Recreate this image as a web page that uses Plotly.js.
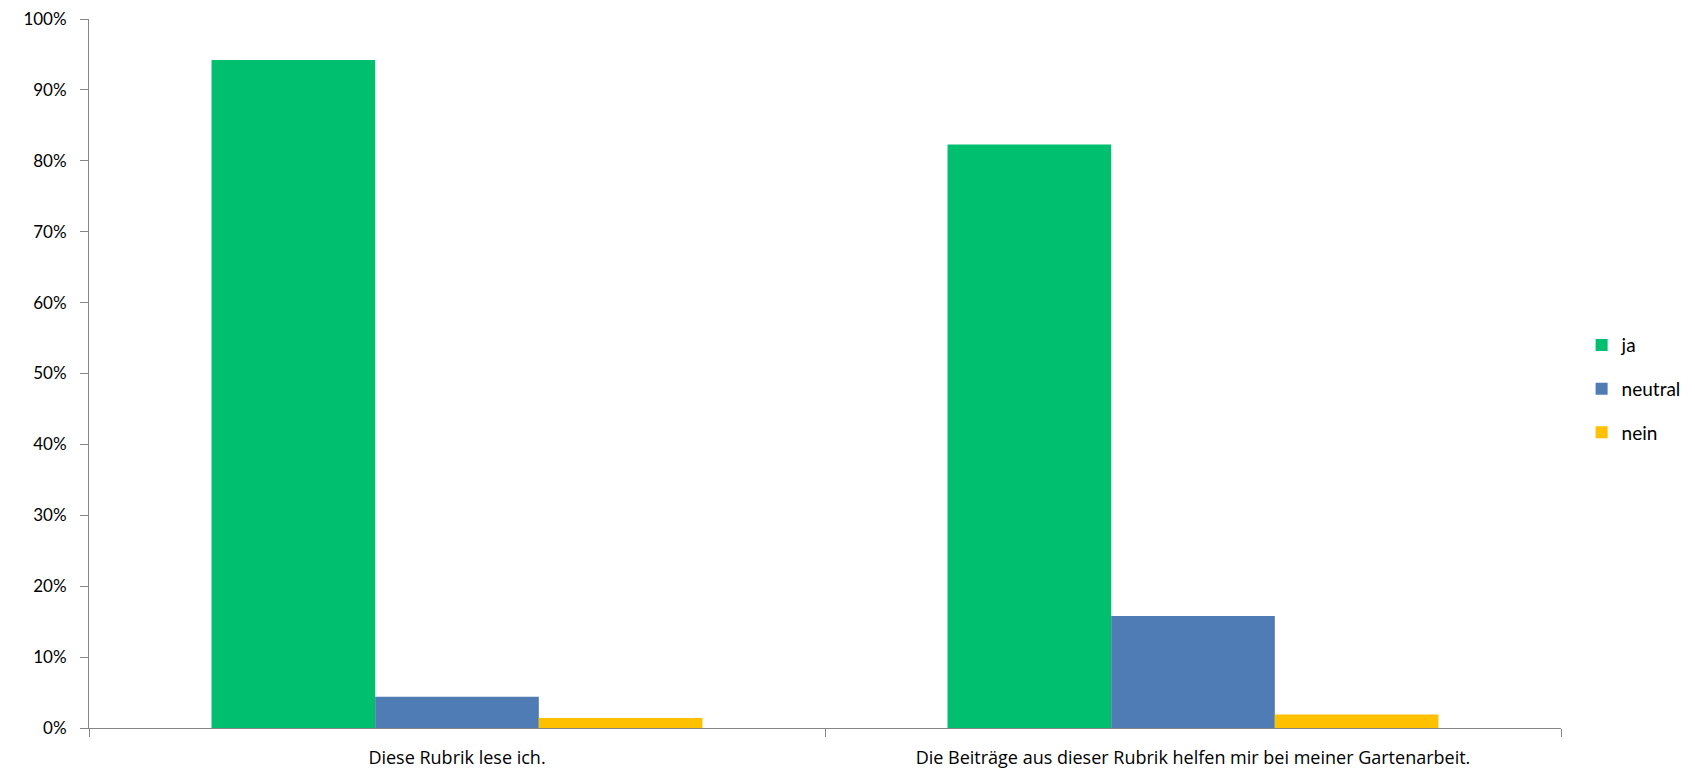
<!DOCTYPE html>
<html>
<head>
<meta charset="utf-8">
<script src="https://cdn.plot.ly/plotly-3.0.1.min.js"></script>
<style>html,body{margin:0;padding:0;background:#fff;}#chart{width:1695px;height:771px;}</style>
</head>
<body>
<div id="chart"></div>
<script>
const categories = ["Diese Rubrik lese ich.", "Die Beiträge aus dieser Rubrik helfen mir bei meiner Gartenarbeit."];
const seriesNames = ["ja", "neutral", "nein"];
const ja = [0.942, 0.823];
const neutral = [0.044, 0.158];
const nein = [0.014, 0.019];
const yTickVals = [0, 0.1, 0.2, 0.3, 0.4, 0.5, 0.6, 0.7, 0.8, 0.9, 1.0];
const yTickText = ["0%", "10%", "20%", "30%", "40%", "50%", "60%", "70%", "80%", "90%", "100%"];

const colors = ["#00BF6F", "#4F7CB5", "#FFC000"];
const values = [ja, neutral, nein];
const FONT = "Lato, 'Open Sans', sans-serif";
const XFONT = "'Open Sans', Lato, sans-serif";

const traces = seriesNames.map((name, i) => ({
  type: "bar",
  name: name,
  legendgroup: name,
  x: categories,
  y: values[i],
  marker: {color: colors[i], line: {width: 0}},
  hoverinfo: "skip"
}));

const layout = {
  width: 1695,
  height: 771,
  paper_bgcolor: "#ffffff",
  plot_bgcolor: "#ffffff",
  barmode: "group",
  bargap: 0.333,
  bargroupgap: 0,
  margin: {l: 89, r: 134, t: 19, b: 43, pad: 0, autoexpand: false},
  font: {family: FONT, size: 16, color: "#000"},
  showlegend: true,
  legend: {
    x: 1.014, y: 0.478, xanchor: "left", yanchor: "middle",
    font: {family: FONT, size: 19, color: "#000"},
    tracegroupgap: 16,
    itemwidth: 30,
    bgcolor: "rgba(0,0,0,0)"
  },
  xaxis: {
    type: "category",
    automargin: false,
    showline: true, linecolor: "#868686", linewidth: 1,
    ticks: "outside", tickson: "boundaries", ticklen: 8, tickcolor: "#868686",
    showgrid: false, zeroline: false,
    tickfont: {family: XFONT, size: 18, color: "#000"},
    ticklabelstandoff: 13
  },
  yaxis: {
    range: [0, 1],
    automargin: false,
    tickvals: yTickVals, ticktext: yTickText,
    showline: true, linecolor: "#868686", linewidth: 1,
    ticks: "outside", ticklen: 8, tickcolor: "#868686",
    showgrid: false, zeroline: false,
    tickfont: {family: FONT, size: 17, color: "#000"},
    ticklabelstandoff: 10
  }
};

Plotly.newPlot("chart", traces, layout, {displayModeBar: false, staticPlot: true});
</script>
</body>
</html>
